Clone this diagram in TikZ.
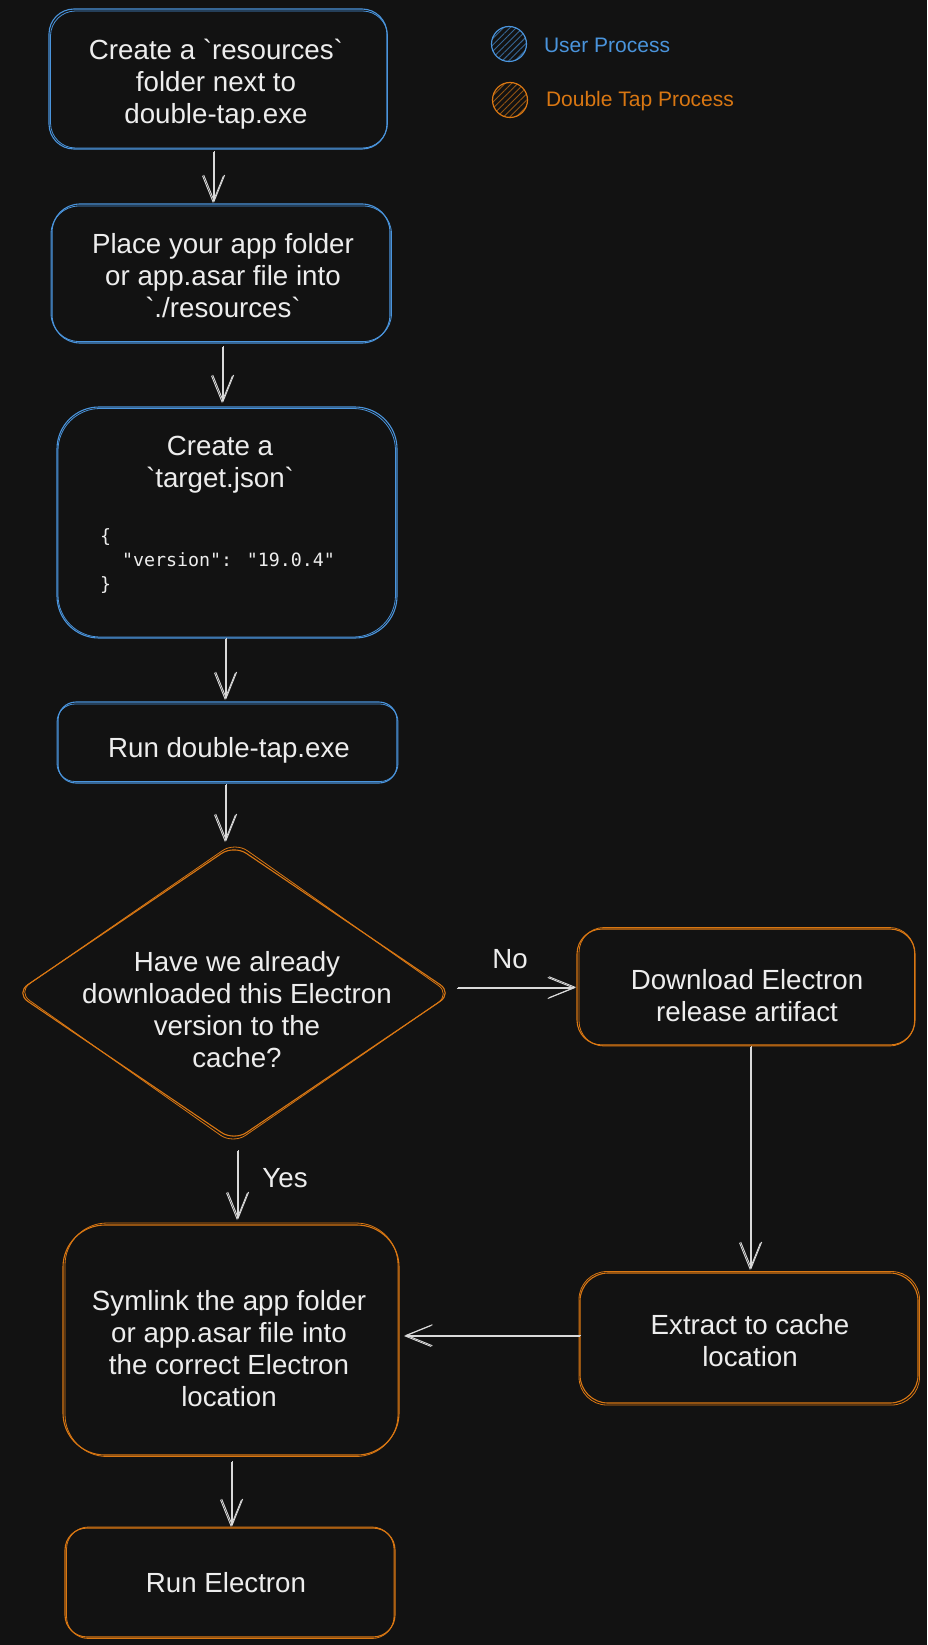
\documentclass[tikz,border=0pt]{standalone}
\usepackage{fontspec}
\setmainfont{Liberation Sans}
\newfontfamily\codefont{DejaVu Sans Mono}
\usetikzlibrary{shapes.geometric,arrows.meta,patterns.meta}
\definecolor{bg}{HTML}{121212}
\definecolor{ucol}{HTML}{4A94DC}
\definecolor{ocol}{HTML}{D97712}
\definecolor{txtc}{HTML}{EDEDED}
\definecolor{arrc}{HTML}{D9D9D9}
\begin{document}
\begin{tikzpicture}[x=1pt,y=-1pt,
  every node/.style={outer sep=0pt},
  ubox/.style={draw=ucol, line width=1.1pt, rounded corners=#1, inner sep=0pt},
  obox/.style={draw=ocol, line width=1.1pt, rounded corners=#1, inner sep=0pt},
  ustroke/.style={draw=ucol, line width=0.8pt, rounded corners=#1},
  ostroke/.style={draw=ocol, line width=0.8pt, rounded corners=#1},
  txt/.style={text=txtc, font=\fontsize{27.7}{32}\selectfont, align=center, inner sep=0pt,
    execute at begin node=\strut, execute at end node=\strut},
  code/.style={text=txtc, font=\codefont\fontsize{18.3}{24}\selectfont, align=left, inner sep=0pt,
    execute at begin node=\strut, execute at end node=\strut},
  arr/.style={draw=arrc, line width=0.9pt, -{Straight Barb[length=26pt,width=21pt,line width=0.9pt]}},
  arrB/.style={arr, line width=0.7pt, transform canvas={xshift=1.2pt,yshift=0.8pt}},
  legend/.style={font=\fontsize{21}{25}\selectfont, inner sep=0pt, anchor=base west},
  dot/.style={circle, draw=#1, line width=1.2pt, minimum size=35pt, inner sep=0pt,
    pattern={Lines[angle=45,distance=4.5pt,line width=0.9pt]}, pattern color=#1!65!bg}
]
\path[use as bounding box, fill=bg] (0,0) rectangle (927,1645);

% legend
\node[dot=ucol] (legU) at (509,44) {};
\node[legend, text=ucol] (legUt) at (544,52.5) {User Process};
\node[dot=ocol] (legO) at (510,100) {};
\node[legend, text=ocol] (legOt) at (546,107) {Double Tap Process};

% boxes (blue)
\node[ubox=25pt, minimum width=338pt, minimum height=140pt] (b1) at (218,79) {};
\draw[ustroke=25pt] ([shift={(1.5,2)}]b1.north west) rectangle ([shift={(0.5,-1)}]b1.south east);
\node[txt] (t1) at (216,86) {Create a \textasciigrave resources\textasciigrave\\folder next to\\double-tap.exe};

\node[ubox=28pt, minimum width=338pt, minimum height=139pt] (b2) at (221,273.5) {};
\draw[ustroke=28pt] ([shift={(-1,2)}]b2.north west) rectangle ([shift={(1.5,-1.5)}]b2.south east);
\node[txt] (t2) at (223,280) {Place your app folder\\or app.asar file into\\\textasciigrave./resources\textasciigrave};

\node[ubox=42pt, minimum width=340pt, minimum height=231pt] (b3) at (227,522.5) {};
\draw[ustroke=42pt] ([shift={(1,1.5)}]b3.north west) rectangle ([shift={(-1.5,-1)}]b3.south east);
\node[txt] (t3) at (220,467) {Create a\\\textasciigrave target.json\textasciigrave};
\node[code, anchor=west] (c3) at (100,562.7) {\{\\\phantom{xx}"version": "19.0.4"\\\}};

\node[ubox=18pt, minimum width=339pt, minimum height=81pt] (b4) at (227.5,742.5) {};
\draw[ustroke=18pt] ([shift={(-1,2)}]b4.north west) rectangle ([shift={(1,-1.5)}]b4.south east);
\node[txt] (t4) at (229,751) {Run double-tap.exe};

% decision
\node[draw=ocol, line width=1.1pt, diamond, minimum width=437pt, minimum height=296pt, inner sep=0pt, rounded corners=15pt] (dia) at (234,993) {};
\draw[ostroke=15pt] ([shift={(1,-3)}]dia.north) -- ([shift={(-2,1)}]dia.east) -- ([shift={(-1,3)}]dia.south) -- ([shift={(2,-1)}]dia.west) -- cycle;
\node[txt] (td) at (237,1014) {Have we already\\downloaded this Electron\\version to the\\cache?};

% orange boxes
\node[obox=25pt, minimum width=338pt, minimum height=116pt] (b5) at (746,987) {};
\draw[ostroke=25pt] ([shift={(2,-1.5)}]b5.north west) rectangle ([shift={(-0.5,1)}]b5.south east);
\node[txt] (t5) at (747,1000) {Download Electron\\release artifact};

\node[obox=28pt, minimum width=338pt, minimum height=130pt] (b7) at (749,1338) {};
\draw[ostroke=28pt] ([shift={(-1,-1.5)}]b7.north west) rectangle ([shift={(1.5,2)}]b7.south east);
\node[txt] (t7) at (750,1345) {Extract to cache\\location};

\node[obox=42pt, minimum width=336pt, minimum height=230pt] (b6) at (231,1340) {};
\draw[ostroke=42pt] ([shift={(2,-2)}]b6.north west) rectangle ([shift={(-1,1.5)}]b6.south east);
\node[txt] (t6) at (229,1353) {Symlink the app folder\\or app.asar file into\\the correct Electron\\location};

\node[obox=22pt, minimum width=330pt, minimum height=109pt] (b8) at (230,1582.5) {};
\draw[ostroke=22pt] ([shift={(1.5,-1)}]b8.north west) rectangle ([shift={(-1,1.5)}]b8.south east);
\node[txt] (t8) at (226,1586) {Run Electron};

% connectors
\draw[arr] ([xshift=-5pt,yshift=-3pt]b1.south) -- ([xshift=-8pt,yshift=1pt]b2.north);
\draw[arrB] ([xshift=-5pt,yshift=-3pt]b1.south) -- ([xshift=-8pt,yshift=1pt]b2.north);
\draw[arr] ([xshift=1pt,yshift=-4pt]b2.south) -- ([xshift=-5pt,yshift=4pt]b3.north);
\draw[arrB] ([xshift=1pt,yshift=-4pt]b2.south) -- ([xshift=-5pt,yshift=4pt]b3.north);
\draw[arr] ([xshift=-2pt,yshift=-1pt]b3.south) -- ([xshift=-2.5pt,yshift=2pt]b4.north);
\draw[arrB] ([xshift=-2pt,yshift=-1pt]b3.south) -- ([xshift=-2.5pt,yshift=2pt]b4.north);
\draw[arr] ([xshift=-2.5pt,yshift=-2pt]b4.south) -- ([xshift=-9pt,yshift=3pt]dia.north);
\draw[arrB] ([xshift=-2.5pt,yshift=-2pt]b4.south) -- ([xshift=-9pt,yshift=3pt]dia.north);
\draw[arr] ([xshift=4pt,yshift=5pt]dia.east) -- ([xshift=-2pt,yshift=-1pt]b5.west);
\draw[arrB] ([xshift=4pt,yshift=5pt]dia.east) -- ([xshift=-2pt,yshift=-1pt]b5.west);
\node[txt] (lno) at (510,962) {No};
\draw[arr] ([xshift=3pt,yshift=-10pt]dia.south) -- ([xshift=6pt,yshift=5pt]b6.north);
\draw[arrB] ([xshift=3pt,yshift=-10pt]dia.south) -- ([xshift=6pt,yshift=5pt]b6.north);
\node[txt] (lyes) at (285,1181) {Yes};
\draw[arr] ([xshift=4pt,yshift=-2pt]b5.south) -- ([xshift=1pt,yshift=3pt]b7.north);
\draw[arrB] ([xshift=4pt,yshift=-2pt]b5.south) -- ([xshift=1pt,yshift=3pt]b7.north);
\draw[arr] ([yshift=2pt]b7.west) -- ([xshift=5pt,yshift=4pt]b6.east);
\draw[arrB] ([yshift=2pt]b7.west) -- ([xshift=5pt,yshift=4pt]b6.east);
\draw[arr] ([yshift=-7pt]b6.south) -- ([xshift=1pt,yshift=1pt]b8.north);
\draw[arrB] ([yshift=-7pt]b6.south) -- ([xshift=1pt,yshift=1pt]b8.north);
\end{tikzpicture}
\end{document}
